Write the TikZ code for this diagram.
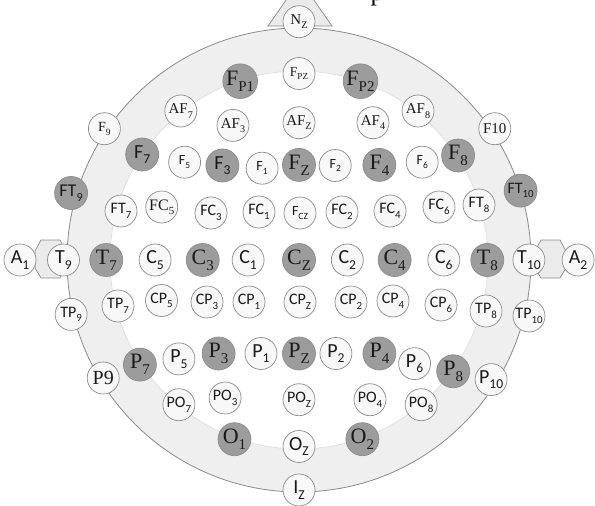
\documentclass[tikz,border=0pt]{standalone}
\usepackage{fontspec}
\usepackage{graphicx}
\newfontfamily\elserif{Liberation Serif}
\newfontfamily\elsans{Carlito}
\newcommand{\elsub}[1]{\raisebox{-0.28em}{\scalebox{0.68}{#1}}}
\definecolor{band}{HTML}{EFEFEF}
\definecolor{earfill}{HTML}{EBEBEB}
\definecolor{headline}{HTML}{8A8A8A}
\definecolor{innerline}{HTML}{E0E0E0}
\definecolor{elecfill}{HTML}{F8F8F8}
\definecolor{elecline}{HTML}{8C8C8C}
\definecolor{elecdark}{HTML}{9C9C9C}
\definecolor{electext}{HTML}{1A1A1A}
\tikzstyle{elec}=[circle, draw=elecline, fill=elecfill, line width=0.7pt, minimum size=32pt, inner sep=0pt, text=electext]
\tikzstyle{darkel}=[elec, fill=elecdark, minimum size=33pt]
\tikzstyle{serbig}=[font=\elserif\fontsize{22}{22}\selectfont]
\tikzstyle{sermid}=[font=\elserif\fontsize{15}{15}\selectfont]
\tikzstyle{sansbig}=[font=\elsans\fontsize{20}{20}\selectfont]
\tikzstyle{sansmid}=[font=\elsans\fontsize{16}{16}\selectfont]
\tikzstyle{sanssml}=[font=\elsans\fontsize{14}{14}\selectfont]

\begin{document}
\begin{tikzpicture}[x=1pt, y=-1pt]
  \useasboundingbox (0,0) rectangle (595,506);
  \node[anchor=base, text=black, font=\elserif\fontsize{26}{26}\selectfont] (cap) at (377,1) {p};
  % nose and ears
  \draw[draw=headline, fill=earfill, line width=0.7pt] (268,26) -- (300,-20) -- (332,26) -- cycle;
  \draw[draw=headline, fill=earfill, line width=0.7pt] (41,240) -- (60,240) -- (66,251) -- (66,268) -- (60,278)
    -- (41,278) -- (35,268) -- (35,251) -- cycle;
  \draw[draw=headline, fill=earfill, line width=0.7pt] (541,240) -- (560,240) -- (566,251) -- (566,268) -- (560,278)
    -- (541,278) -- (535,268) -- (535,251) -- cycle;
  % head
  \draw[draw=headline, fill=band, line width=0.8pt] (299,260) circle[radius=232pt];
  \draw[draw=innerline, fill=white, line width=0.8pt] (299,260) circle[radius=189pt];

  \node[elec, sermid] (Nz) at (299,21.7) {N\elsub{Z}};
  \node[elec, sermid, font=\elserif\fontsize{13.5}{13.5}\selectfont] (Fpz) at (299,73.5) {F\elsub{PZ}};
  \node[darkel, serbig] (Fp1) at (240.2,81.2) {F\elsub{P1}};
  \node[darkel, serbig] (Fp2) at (360.5,81.2) {F\elsub{P2}};

  \node[elec, sermid] (AF7) at (180.8,111) {AF\elsub{7}};
  \node[elec, sermid] (AF3) at (233,125.4) {AF\elsub{3}};
  \node[elec, sermid] (AFz) at (299,122.7) {AF\elsub{Z}};
  \node[elec, sermid] (AF4) at (373,122.7) {AF\elsub{4}};
  \node[elec, sermid] (AF8) at (418,111) {AF\elsub{8}};

  \node[elec, sermid, font=\elserif\fontsize{14}{14}\selectfont] (F9) at (104.4,128.7) {F\elsub{9}};
  \node[elec, sermid] (F10) at (494.8,128.7) {F10};
  \node[darkel, sansbig] (F7) at (142.2,154.5) {F\elsub{7}};
  \node[elec, sanssml] (F5) at (184.6,162.2) {F\elsub{5}};
  \node[darkel, sansbig] (F3) at (222.4,165.5) {F\elsub{3}};
  \node[elec, sanssml] (F1) at (262.1,168.2) {F\elsub{1}};
  \node[darkel, serbig] (Fz) at (299,164.9) {F\elsub{Z}};
  \node[elec, sanssml] (F2) at (335.2,165.5) {F\elsub{2}};
  \node[darkel, serbig] (F4) at (379.4,164.9) {F\elsub{4}};
  \node[elec, sanssml] (F6) at (422.2,162.2) {F\elsub{6}};
  \node[darkel, serbig] (F8) at (458.1,155.5) {F\elsub{8}};

  \node[darkel, sansbig, font=\elsans\fontsize{18}{18}\selectfont] (FT9) at (71.1,193) {FT\elsub{9}};
  \node[darkel, sansmid] (FT10) at (520.6,190.6) {FT\elsub{10}};
  \node[elec, sansmid] (FT7) at (121,211) {FT\elsub{7}};
  \node[elec, sermid, font=\elserif\fontsize{16}{16}\selectfont] (FC5) at (161.7,207) {FC\elsub{5}};
  \node[elec, sansmid] (FC3) at (211,213) {FC\elsub{3}};
  \node[elec, sansmid] (FC1) at (259,212) {FC\elsub{1}};
  \node[elec, sanssml] (FCz) at (300,213) {F\elsub{CZ}};
  \node[elec, sansmid] (FC2) at (342,212) {FC\elsub{2}};
  \node[elec, sansmid] (FC4) at (390,211) {FC\elsub{4}};
  \node[elec, sansmid] (FC6) at (439,207) {FC\elsub{6}};
  \node[elec, sansmid] (FT8) at (479,205) {FT\elsub{8}};

  \node[elec, sansbig] (A1) at (20,260) {A\elsub{1}};
  \node[elec, sansbig] (T9) at (63.5,260) {T\elsub{9}};
  \node[darkel, serbig] (T7) at (106.3,260) {T\elsub{7}};
  \node[elec, sansbig] (C5) at (155.1,260) {C\elsub{5}};
  \node[darkel, serbig] (C3) at (202.7,260) {C\elsub{3}};
  \node[elec, sansbig] (C1) at (248.1,260) {C\elsub{1}};
  \node[darkel, serbig] (Cz) at (299,260) {C\elsub{Z}};
  \node[elec, sansbig] (C2) at (347.3,260) {C\elsub{2}};
  \node[darkel, serbig] (C4) at (394.6,260) {C\elsub{4}};
  \node[elec, sansbig] (C6) at (443.8,260) {C\elsub{6}};
  \node[darkel, serbig] (T8) at (487.3,260) {T\elsub{8}};
  \node[elec, sansbig] (T10) at (528.9,260) {T\elsub{10}};
  \node[elec, sansbig] (A2) at (578.1,260) {A\elsub{2}};

  \node[elec, sansmid] (TP9) at (71.1,314.4) {TP\elsub{9}};
  \node[elec, sansmid] (TP7) at (118,306) {TP\elsub{7}};
  \node[elec, sansmid] (CP5) at (161.5,300.5) {CP\elsub{5}};
  \node[elec, sansmid] (CP3) at (207,302) {CP\elsub{3}};
  \node[elec, sansmid] (CP1) at (249,302) {CP\elsub{1}};
  \node[elec, sansmid] (CPz) at (300,302) {CP\elsub{Z}};
  \node[elec, sansmid] (CP2) at (351,302) {CP\elsub{2}};
  \node[elec, sansmid] (CP4) at (393,301) {CP\elsub{4}};
  \node[elec, sansmid] (CP6) at (441,305) {CP\elsub{6}};
  \node[elec, sansmid] (TP8) at (486,311) {TP\elsub{8}};
  \node[elec, sansmid] (TP10) at (529,316) {TP\elsub{10}};

  \node[elec, serbig, font=\elserif\fontsize{20}{20}\selectfont] (P9) at (103.2,378) {P9};
  \node[darkel, serbig] (P7) at (139.9,364.6) {P\elsub{7}};
  \node[elec, sansbig] (P5) at (178.9,358.9) {P\elsub{5}};
  \node[darkel, serbig] (P3) at (218.6,353.5) {P\elsub{3}};
  \node[elec, sansbig] (P1) at (261,353.5) {P\elsub{1}};
  \node[darkel, serbig] (Pz) at (299,353.5) {P\elsub{Z}};
  \node[elec, sansbig] (P2) at (335.9,353.5) {P\elsub{2}};
  \node[darkel, serbig] (P4) at (379.4,353.5) {P\elsub{4}};
  \node[elec, sansbig] (P6) at (414.6,363.6) {P\elsub{6}};
  \node[darkel, serbig] (P8) at (453.2,371.3) {P\elsub{8}};
  \node[elec, sansbig] (P10) at (491.1,379.6) {P\elsub{10}};

  \node[elec, sansmid] (PO7) at (178.9,404.7) {PO\elsub{7}};
  \node[elec, sansmid] (PO3) at (225.1,398) {PO\elsub{3}};
  \node[elec, sansmid] (POz) at (299,399.7) {PO\elsub{Z}};
  \node[elec, sansmid] (PO4) at (370,399.7) {PO\elsub{4}};
  \node[elec, sansmid] (PO8) at (421.1,404.7) {PO\elsub{8}};

  \node[darkel, serbig] (O1) at (234.5,439.2) {O\elsub{1}};
  \node[elec, sansbig] (Oz) at (299,446.5) {O\elsub{Z}};
  \node[darkel, serbig] (O2) at (362.4,439.2) {O\elsub{2}};
  \node[elec, sansbig] (Iz) at (299,490) {I\elsub{Z}};
\end{tikzpicture}
\end{document}
